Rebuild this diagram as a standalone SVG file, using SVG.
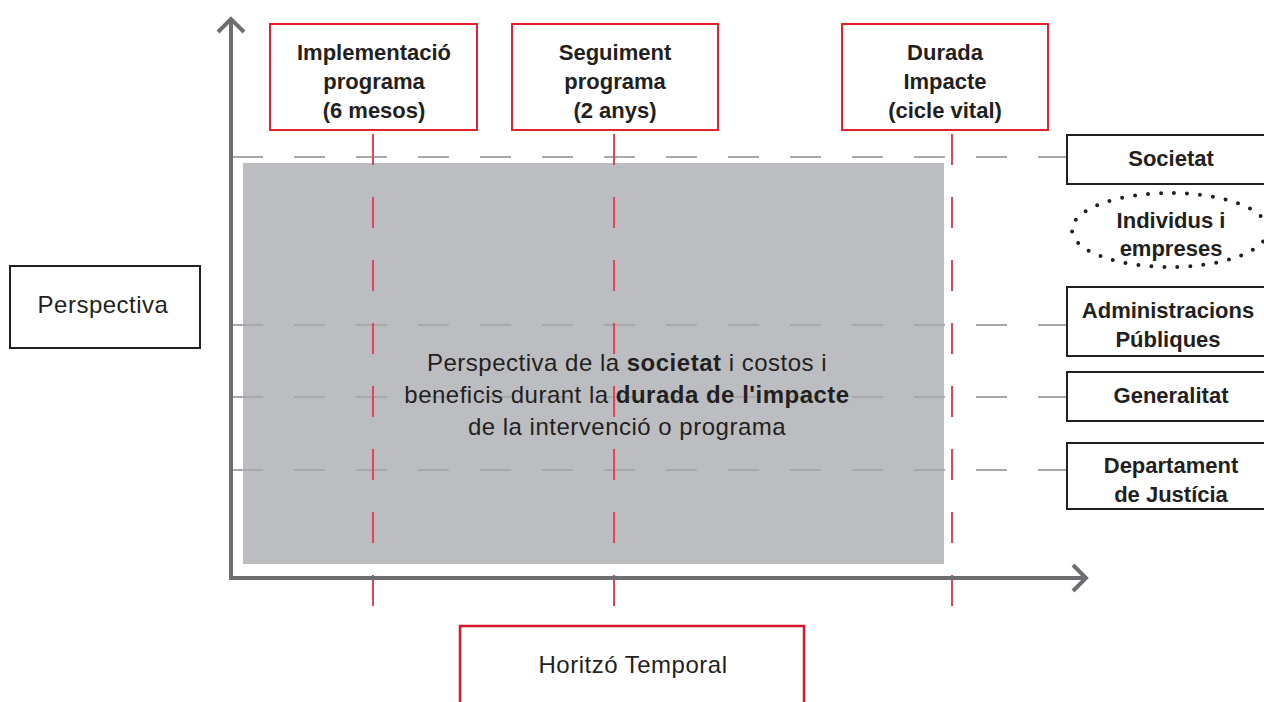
<svg xmlns="http://www.w3.org/2000/svg" width="1264" height="702" viewBox="0 0 1264 702">
<style>
.bold{font-family:"Liberation Sans",Arial,sans-serif;font-weight:bold;font-size:22px;fill:#231f20;text-anchor:middle}
.reg{font-family:"Liberation Sans",Arial,sans-serif;font-size:24px;fill:#231f20;text-anchor:middle;letter-spacing:0.5px}
.redbox{fill:#fff;stroke:#e3202c;stroke-width:2}
.blkbox{fill:#fff;stroke:#231f20;stroke-width:2}
.gdash{stroke:#a7a8ab;stroke-width:2;stroke-dasharray:31 31;fill:none}
.rdash{stroke:#e34459;stroke-width:2;stroke-dasharray:31 32;fill:none}
.axis{stroke:#6d6e71;stroke-width:4;fill:none}
</style>
<rect width="1264" height="702" fill="#fff"/>
<g id="area">
<rect x="243" y="163" width="701" height="401" fill="#bcbdc1"/>
</g>
<g id="connectors">
<line class="gdash" x1="232" y1="157" x2="1066" y2="157"/>
<line class="gdash" x1="232" y1="325" x2="1066" y2="325"/>
<line class="gdash" x1="232" y1="397" x2="1066" y2="397"/>
<line class="gdash" x1="232" y1="470" x2="1066" y2="470"/>
<line class="rdash" x1="373" y1="134" x2="373" y2="608"/>
<line class="rdash" x1="614" y1="134" x2="614" y2="608"/>
<line class="rdash" x1="952" y1="134" x2="952" y2="608"/>
</g>
<g id="axes">
<line class="axis" x1="231" y1="19" x2="231" y2="580"/>
<line class="axis" x1="229" y1="578" x2="1086" y2="578"/>
<polyline class="axis" points="218,32 231,19 244,32"/>
<polyline class="axis" points="1073,565 1086,578 1073,591"/>
</g>
<g id="center-text">
<text class="reg" x="627" y="371">Perspectiva de la <tspan font-weight="bold">societat</tspan> i costos i</text>
<text class="reg" x="627" y="403">beneficis durant la <tspan font-weight="bold">durada de l'impacte</tspan></text>
<text class="reg" x="627" y="435">de la intervenció o programa</text>
</g>
<g id="implementacio">
<rect class="redbox" x="270" y="24" width="207" height="106"/>
<text class="bold" x="374" y="60">Implementació</text>
<text class="bold" x="374" y="89">programa</text>
<text class="bold" x="374" y="118">(6 mesos)</text>
</g>
<g id="seguiment">
<rect class="redbox" x="512" y="24" width="206" height="106"/>
<text class="bold" x="615" y="60">Seguiment</text>
<text class="bold" x="615" y="89">programa</text>
<text class="bold" x="615" y="118">(2 anys)</text>
</g>
<g id="durada">
<rect class="redbox" x="842" y="24" width="206" height="106"/>
<text class="bold" x="945" y="60">Durada</text>
<text class="bold" x="945" y="89">Impacte</text>
<text class="bold" x="945" y="118">(cicle vital)</text>
</g>
<g id="societat">
<rect class="blkbox" x="1067" y="135" width="210" height="49"/>
<text class="bold" x="1171" y="166">Societat</text>
</g>
<g id="individus">
<ellipse cx="1170" cy="230" rx="98" ry="37" fill="none" stroke="#231f20" stroke-width="4" stroke-linecap="round" stroke-dasharray="0 13"/>
<text class="bold" x="1171" y="228">Individus i</text>
<text class="bold" x="1171" y="256">empreses</text>
</g>
<g id="administracions">
<rect class="blkbox" x="1067" y="287" width="210" height="69"/>
<text class="bold" x="1168" y="318">Administracions</text>
<text class="bold" x="1168" y="347">Públiques</text>
</g>
<g id="generalitat">
<rect class="blkbox" x="1067" y="372" width="210" height="49"/>
<text class="bold" x="1171" y="403">Generalitat</text>
</g>
<g id="departament">
<rect class="blkbox" x="1067" y="443" width="210" height="66"/>
<text class="bold" x="1171" y="473">Departament</text>
<text class="bold" x="1171" y="502">de Justícia</text>
</g>
<g id="perspectiva">
<rect class="blkbox" x="10" y="266" width="190" height="82"/>
<text class="reg" x="103" y="313">Perspectiva</text>
</g>
<g id="horitzo">
<rect x="460" y="626" width="344" height="90" fill="#fff" stroke="#d7182a" stroke-width="2.5"/>
<text class="reg" x="633" y="673">Horitzó Temporal</text>
</g>
</svg>
